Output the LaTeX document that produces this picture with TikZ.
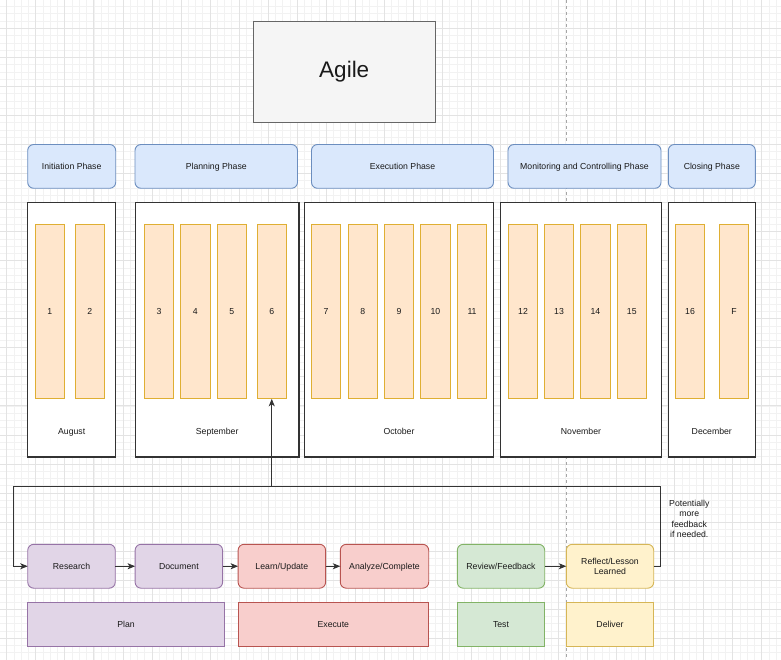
\documentclass[tikz,border=0pt]{standalone}
\usepackage{fontspec}
\setmainfont{Liberation Sans}
\usetikzlibrary{arrows.meta}
\definecolor{gridminor}{HTML}{F2F2F2}
\definecolor{gridmajor}{HTML}{E3E3E3}
\definecolor{agilefill}{HTML}{F5F5F5}
\definecolor{agiledraw}{HTML}{666666}
\definecolor{bluefill}{HTML}{DAE8FC}
\definecolor{bluedraw}{HTML}{6C8EBF}
\definecolor{orfill}{HTML}{FFE6CC}
\definecolor{ordraw}{HTML}{D79B00}
\definecolor{purfill}{HTML}{E1D5E7}
\definecolor{purdraw}{HTML}{9673A6}
\definecolor{redfill}{HTML}{F8CECC}
\definecolor{reddraw}{HTML}{B85450}
\definecolor{grnfill}{HTML}{D5E8D4}
\definecolor{grndraw}{HTML}{82B366}
\definecolor{yelfill}{HTML}{FFF2CC}
\definecolor{yeldraw}{HTML}{D6B656}
\definecolor{txt}{HTML}{1A1A1A}
\definecolor{edge}{HTML}{333333}
\tikzset{
  multi/.style={inner sep=0pt, outer sep=0pt, font=\fontsize{8.7}{10.4}\selectfont, text=txt, line width=0.9pt},
  base/.style={multi, text height=6.9pt, text depth=1.1pt},
  agilebox/.style={multi, fill=agilefill, draw=agiledraw, font=\fontsize{22.5}{26}\selectfont},
  phase/.style={base, rounded corners=6pt, fill=bluefill, draw=bluedraw, minimum height=43.8pt},
  month/.style={base, fill=white, draw=edge, line width=1.1pt, minimum height=254.7pt},
  sprint/.style={base, fill=orfill, draw=ordraw!80, minimum width=29.5pt, minimum height=174.5pt},
  lbl/.style={base},
  proc/.style={base, rounded corners=6pt, minimum height=43.9pt, minimum width=87.5pt},
  procm/.style={multi, rounded corners=6pt, minimum height=43.9pt, minimum width=87.5pt},
  cat/.style={base, minimum height=44pt},
  purple/.style={fill=purfill, draw=purdraw},
  red/.style={fill=redfill, draw=reddraw},
  green/.style={fill=grnfill, draw=grndraw},
  yellow/.style={fill=yelfill, draw=yeldraw},
  conn/.style={draw=edge, line width=0.9pt, -{Stealth[length=7.5pt,width=6pt,inset=2pt]}},
}
\begin{document}
\begin{tikzpicture}[x=1pt,y=-1pt]
\useasboundingbox (0,0) rectangle (781,660);
\fill[white] (0,0) rectangle (781,660);
% grid
\foreach \i in {-1,...,107} \draw[gridminor, line width=0.6pt] ({6.7+7.26*\i},0) -- ({6.7+7.26*\i},660);
\foreach \i in {-4,...,87} \draw[gridminor, line width=0.6pt] (0,{28.3+7.26*\i}) -- (781,{28.3+7.26*\i});
\foreach \i in {0,...,26} \draw[gridmajor, line width=0.7pt] ({6.7+29.04*\i},0) -- ({6.7+29.04*\i},660);
\foreach \i in {-1,...,22} \draw[gridmajor, line width=0.7pt] (0,{28.3+29.04*\i}) -- (781,{28.3+29.04*\i});
\draw[gray!70, dash pattern=on 3pt off 3pt, line width=0.6pt] (566.5,0) -- (566.5,660);

% title
\node[agilebox, minimum width=181.5pt, minimum height=101.5pt] (agile) at (344.25,71.75) {Agile};

% phases
\node[phase, minimum width=88pt] (pinit) at (71.7,166.4) {Initiation Phase};
\node[phase, minimum width=162.5pt] (pplan) at (216.25,166.4) {Planning Phase};
\node[phase, minimum width=182pt] (pexec) at (402.5,166.4) {Execution Phase};
\node[phase, minimum width=153pt] (pmon) at (584.5,166.4) {Monitoring and Controlling Phase};
\node[phase, minimum width=87pt] (pclose) at (711.8,166.4) {Closing Phase};

% months
\node[month, minimum width=88pt] (aug) at (71.7,329.65) {};
\node[month, minimum width=163.7pt] (sep) at (217.15,329.65) {};
\node[month, minimum width=189.4pt] (oct) at (399,329.65) {};
\node[month, minimum width=160.6pt] (nov) at (581,329.65) {};
\node[month, minimum width=87pt] (dec) at (711.8,329.65) {};
\node[lbl] (laug) at (71.7,431.5) {August};
\node[lbl] (lsep) at (217.15,431.5) {September};
\node[lbl] (loct) at (399,431.5) {October};
\node[lbl] (lnov) at (581,431.5) {November};
\node[lbl] (ldec) at (711.8,431.5) {December};

% sprints
\foreach \nm/\lx/\t in {s1/35/1, s2/75/2, s3/144.3/3, s4/180.5/4, s5/217/5, s6/257/6,
  s7/311.3/7, s8/348/8, s9/384.3/9, s10/420.7/10, s11/457.3/11,
  s12/508.3/12, s13/544.3/13, s14/580.7/14, s15/617/15, s16/675.3/16, sF/719.2/F}
  \node[sprint] (\nm) at ({\lx+14.75},311.55) {\t};

% process steps
\node[proc, purple] (research) at (71.5,566.25) {Research};
\node[proc, purple] (document) at (178.85,566.25) {Document};
\node[proc, red] (learn) at (281.85,566.25) {Learn/Update};
\node[proc, red, minimum width=88.4pt] (analyze) at (384.5,566.25) {Analyze/Complete};
\node[proc, green, minimum width=87.4pt] (review) at (501,566.25) {Review/Feedback};
\node[procm, yellow, minimum width=87.4pt, align=center] (reflect) at (610,566.25) {Reflect/Lesson\\Learned};

% categories
\node[cat, purple, minimum width=196.6pt] (plan) at (126,624.3) {Plan};
\node[cat, red, minimum width=190.7pt] (execute) at (333.35,624.3) {Execute};
\node[cat, green, minimum width=87.4pt] (test) at (501,624.3) {Test};
\node[cat, yellow, minimum width=87.4pt] (deliver) at (610,624.3) {Deliver};

% connectors
\draw[conn] (research) -- (document);
\draw[conn] (document) -- (learn);
\draw[conn] (learn) -- (analyze);
\draw[conn] (review) -- (reflect);

\coordinate (fbR) at (660.3,486);
\coordinate (fbL) at (13.3,486);
\coordinate (fbJ) at (s6 |- fbR);
\draw[conn] (reflect.east) -| (fbR) -- (fbL) |- (research.west);
\draw[conn] (fbJ) -- (s6.south);

\node[multi, align=center] (note) at (689.3,519) {Potentially\\more\\feedback\\if needed.};
\end{tikzpicture}
\end{document}
